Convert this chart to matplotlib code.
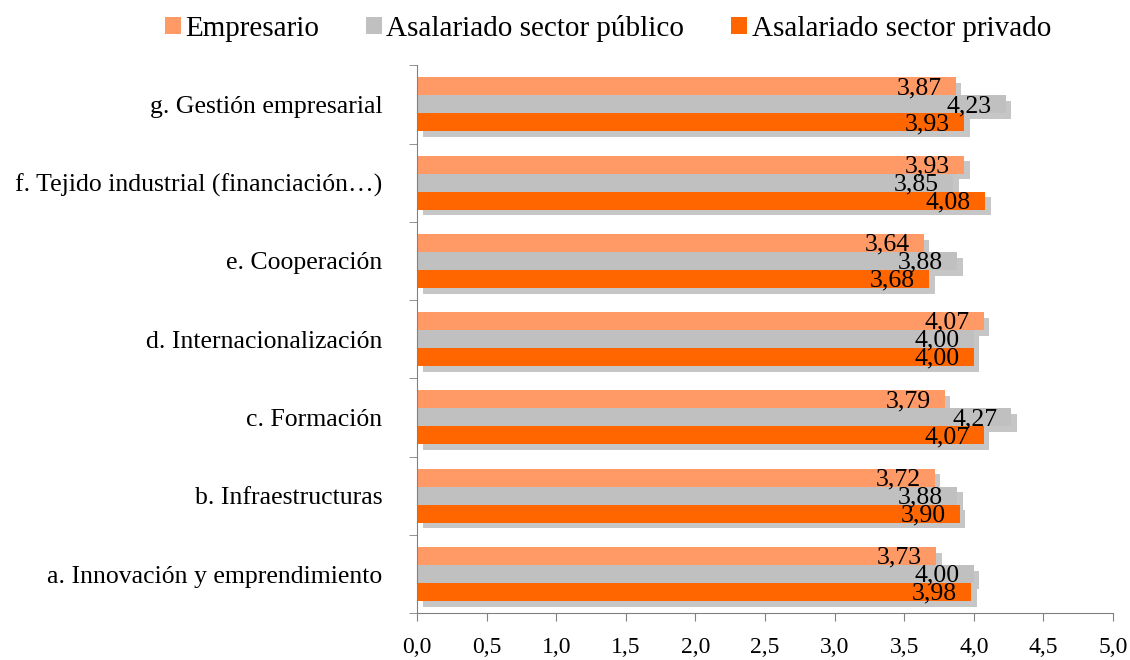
import matplotlib.pyplot as plt
import matplotlib.patheffects as pe
import numpy as np

plt.rcParams['font.family'] = ['Liberation Serif', 'DejaVu Serif']

# datos
categorias = ['a. Innovación y emprendimiento', 'b. Infraestructuras', 'c. Formación',
              'd. Internacionalización', 'e. Cooperación',
              'f. Tejido industrial (financiación…)', 'g. Gestión empresarial']
empresario = [3.73, 3.72, 3.79, 4.07, 3.64, 3.93, 3.87]
publico = [4.00, 3.88, 4.27, 4.00, 3.88, 3.85, 4.23]
privado = [3.98, 3.90, 4.07, 4.00, 3.68, 4.08, 3.93]
series = ['Empresario', 'Asalariado sector público', 'Asalariado sector privado']
colores = ['#FF9966', '#C0C0C0', '#FF6600']

fig = plt.figure(figsize=(11.3, 6.6), dpi=100)
ax = fig.add_axes([0.369, 0.071, 0.616, 0.83])

y = np.arange(len(categorias))
h = 0.23
todas = []
for i, (vals, nombre, col) in enumerate(zip([empresario, publico, privado], series, colores)):
    pos = y + h * (1 - i)
    bars = ax.barh(pos, vals, height=h, color=col, label=nombre, zorder=2)
    todas.extend(bars)
    for p, v in zip(pos, vals):
        ax.text(v - 0.1, p - 0.02, f'{v:.2f}'.replace('.', ','), ha='right', va='center',
                fontsize=18.5, zorder=3)

ax.set_xlim(0, 5)
ax.set_ylim(-0.5, 6.5)
ax.set_xticks(np.arange(0, 5.01, 0.5))
ax.set_xticklabels([f'{t:.1f}'.replace('.', ',') for t in np.arange(0, 5.01, 0.5)], fontsize=17)
ax.set_yticks(y)
ax.set_yticklabels(categorias, fontsize=18.5)
ax.set_yticks(np.arange(-0.5, 7, 1), minor=True)
ax.tick_params(axis='y', which='major', length=0, pad=25)
ax.tick_params(axis='y', which='minor', length=6, color='#808080')
ax.tick_params(axis='x', length=6, color='#808080', pad=11)
for s in ['top', 'right']:
    ax.spines[s].set_visible(False)
for s in ['left', 'bottom']:
    ax.spines[s].set_color('#808080')

fig.legend(loc='center', bbox_to_anchor=(0.538, 0.957), ncol=3, frameon=False, fontsize=21,
           handlelength=0.55, handleheight=0.55, handletextpad=0.15, columnspacing=1.6)

# sombra de las barras (despues de la leyenda para que no salga en ella)
sombra = [pe.SimplePatchShadow(offset=(4, -4), shadow_rgbFace='#444444', alpha=0.3), pe.Normal()]
for b in todas:
    b.set_path_effects(sombra)

plt.savefig('out.png', dpi=100)
